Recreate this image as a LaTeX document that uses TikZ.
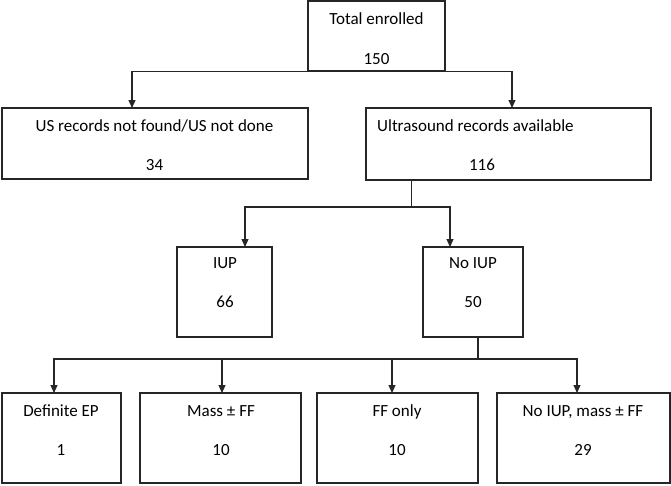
\documentclass[tikz,border=0pt]{standalone}
\usepackage{fontspec}
\setmainfont{Carlito}
\usetikzlibrary{arrows.meta}
\begin{document}
\begin{tikzpicture}[x=1pt,y=-1pt,
  box/.style={draw=black!85, line width=1.1pt, inner sep=0pt},
  lbl/.style={font=\fontsize{17}{20}\selectfont, inner sep=0pt, anchor=base},
  con/.style={draw=black!85, line width=1.1pt},
  arr/.style={con, -{Triangle[length=8pt,width=7pt]}}]
\useasboundingbox (0,0) rectangle (671,485);
% boxes
\node[box, minimum width=137pt, minimum height=70pt] (t) at (376.5,36) {};
\node[box, minimum width=306pt, minimum height=71pt] (us) at (155,143.5) {};
\node[box, minimum width=285pt, minimum height=72pt] (ur) at (508.5,144) {};
\node[box, minimum width=95pt, minimum height=90pt] (iup) at (224.5,292) {};
\node[box, minimum width=100pt, minimum height=90pt] (noiup) at (473,292) {};
\node[box, minimum width=119pt, minimum height=90pt] (b1) at (61.5,438) {};
\node[box, minimum width=161pt, minimum height=90pt] (b2) at (220.5,438) {};
\node[box, minimum width=161pt, minimum height=90pt] (b3) at (397.5,438) {};
\node[box, minimum width=173pt, minimum height=90pt] (b4) at (583.5,438) {};
% texts
\node[lbl] (t1) at (376.5,24) {Total enrolled};
\node[lbl] (t2) at (376.5,64) {150};
\node[lbl] (us1) at (154.5,131) {US records not found/US not done};
\node[lbl] (us2) at (154.5,170) {34};
\node[lbl, anchor=base west] (ur1) at (377,131) {Ultrasound records available};
\node[lbl] (ur2) at (482,170) {116};
\node[lbl] (i1) at (225,268) {IUP};
\node[lbl] (i2) at (225,307) {66};
\node[lbl] (n1) at (473,268) {No IUP};
\node[lbl] (n2) at (473,307) {50};
\node[lbl] (b1a) at (61,416) {Definite EP};
\node[lbl] (b1b) at (61,455) {1};
\node[lbl] (b2a) at (221,416) {Mass ± FF};
\node[lbl] (b2b) at (221,455) {10};
\node[lbl] (b3a) at (397,416) {FF only};
\node[lbl] (b3b) at (397,455) {10};
\node[lbl] (b4a) at (583,416) {No IUP, mass ± FF};
\node[lbl] (b4b) at (583,455) {29};
% junction coordinates
\coordinate (a1) at (132,108);
\coordinate (a2) at (512,108);
\coordinate (j2) at (411.5,207);
\coordinate (a3) at (245,247);
\coordinate (a4) at (450,247);
\coordinate (j3) at (478,359);
\coordinate (a5) at (54,393);
\coordinate (a6) at (222,393);
\coordinate (a7) at (392,393);
\coordinate (a8) at (577,393);
% connectors
\draw[arr] (t.south west) -| (a1);
\draw[arr] (t.south east) -| (a2);
\draw[con] (t.south west) -- (t.south east);
\draw[con] (ur.south -| j2) -- (j2);
\draw[arr] (j2) -| (a3);
\draw[arr] (j2) -| (a4);
\draw[con] (noiup.south -| j3) -- (j3);
\draw[arr] (j3) -| (a5);
\draw[arr] (j3) -| (a6);
\draw[arr] (j3) -| (a7);
\draw[arr] (j3) -| (a8);
\end{tikzpicture}
\end{document}
